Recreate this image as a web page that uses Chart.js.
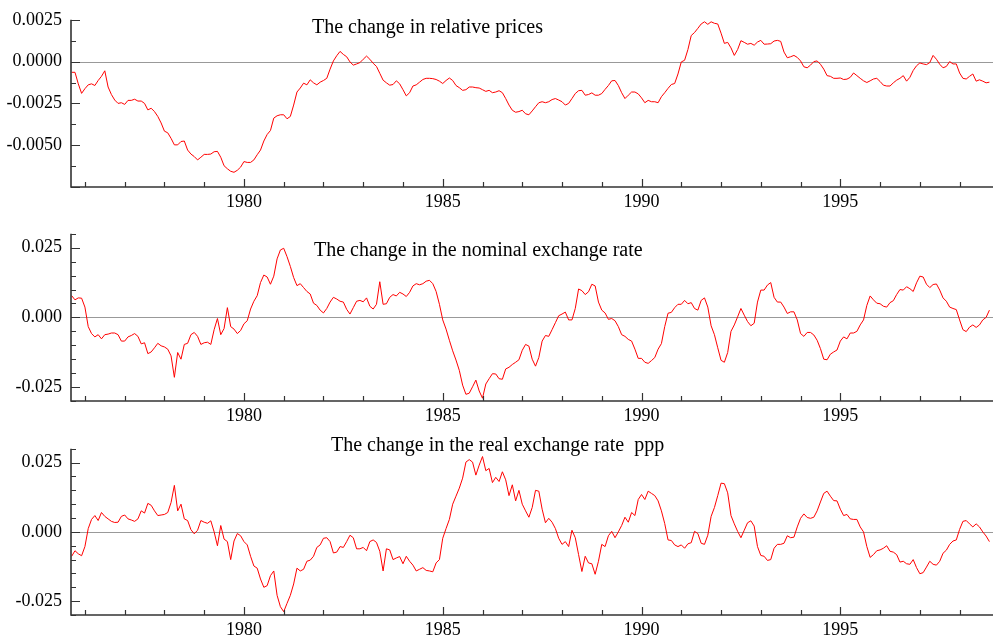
<!DOCTYPE html>
<html>
<head>
<meta charset="utf-8">
<script src="https://cdn.jsdelivr.net/npm/chart.js@4.4.0/dist/chart.umd.min.js"></script>
<style>
  html, body { margin: 0; padding: 0; background: #fff; }
  body { width: 993px; height: 642px; position: relative; overflow: hidden; }
  canvas { position: absolute; left: 0; }
</style>
</head>
<body>
<canvas id="relPrices" width="993" height="214" style="top:0"></canvas>
<canvas id="nominal" width="993" height="214" style="top:214px"></canvas>
<canvas id="real" width="993" height="213" style="top:429px"></canvas>
<script>
// monthly observations, first one is Sep 1975
const startYear = 1975 + 8 / 12;
const xMin = 1975.65;
const xMax = 1998.84;

// change in relative prices
const relPrices = [
  -0.00064, -0.00064, -0.00133, -0.00190, -0.00162, -0.00139, -0.00133, -0.00143, -0.00113, -0.00088, -0.00055, -0.00152,
  -0.00197, -0.00230, -0.00250, -0.00246, -0.00256, -0.00232, -0.00232, -0.00225, -0.00236, -0.00236, -0.00250, -0.00289,
  -0.00279, -0.00299, -0.00328, -0.00367, -0.00416, -0.00426, -0.00459, -0.00498, -0.00498, -0.00478, -0.00475, -0.00529,
  -0.00553, -0.00568, -0.00588, -0.00572, -0.00555, -0.00555, -0.00553, -0.00539, -0.00537, -0.00572, -0.00623, -0.00641,
  -0.00656, -0.00662, -0.00650, -0.00631, -0.00598, -0.00603, -0.00603, -0.00588, -0.00557, -0.00529, -0.00475, -0.00436,
  -0.00412, -0.00338, -0.00324, -0.00318, -0.00318, -0.00342, -0.00328, -0.00260, -0.00182, -0.00158, -0.00129, -0.00139,
  -0.00109, -0.00127, -0.00139, -0.00123, -0.00113, -0.00100, -0.00045, 0.00004, 0.00035, 0.00061, 0.00043, 0.00029,
  -0.00002, -0.00021, -0.00014, -0.00006, 0.00014, 0.00033, 0.00014, -0.00010, -0.00029, -0.00070, -0.00111, -0.00127,
  -0.00141, -0.00137, -0.00115, -0.00133, -0.00168, -0.00205, -0.00186, -0.00146, -0.00139, -0.00123, -0.00107, -0.00100,
  -0.00100, -0.00102, -0.00107, -0.00117, -0.00131, -0.00113, -0.00098, -0.00113, -0.00143, -0.00156, -0.00172, -0.00168,
  -0.00152, -0.00152, -0.00156, -0.00158, -0.00168, -0.00178, -0.00172, -0.00186, -0.00182, -0.00174, -0.00186, -0.00221,
  -0.00260, -0.00291, -0.00303, -0.00299, -0.00291, -0.00312, -0.00318, -0.00295, -0.00270, -0.00246, -0.00240, -0.00246,
  -0.00240, -0.00227, -0.00221, -0.00230, -0.00240, -0.00260, -0.00250, -0.00221, -0.00191, -0.00174, -0.00172, -0.00201,
  -0.00197, -0.00187, -0.00201, -0.00201, -0.00191, -0.00166, -0.00143, -0.00115, -0.00113, -0.00143, -0.00186, -0.00221,
  -0.00201, -0.00182, -0.00182, -0.00193, -0.00217, -0.00246, -0.00232, -0.00240, -0.00240, -0.00246, -0.00210, -0.00186,
  -0.00160, -0.00137, -0.00131, -0.00074, -0.00002, 0.00008, 0.00072, 0.00156, 0.00174, 0.00199, 0.00225, 0.00238,
  0.00223, 0.00238, 0.00229, 0.00225, 0.00170, 0.00109, 0.00115, 0.00082, 0.00037, 0.00072, 0.00125, 0.00115,
  0.00104, 0.00109, 0.00098, 0.00117, 0.00127, 0.00104, 0.00105, 0.00107, 0.00123, 0.00127, 0.00121, 0.00057,
  0.00023, 0.00029, 0.00037, 0.00025, 0.00004, -0.00031, -0.00037, -0.00021, 0.00000, 0.00004, -0.00016, -0.00045,
  -0.00084, -0.00088, -0.00100, -0.00100, -0.00098, -0.00107, -0.00105, -0.00094, -0.00068, -0.00084, -0.00100, -0.00115,
  -0.00125, -0.00115, -0.00104, -0.00100, -0.00119, -0.00141, -0.00146, -0.00146, -0.00127, -0.00111, -0.00100, -0.00084,
  -0.00117, -0.00094, -0.00053, -0.00025, -0.00008, -0.00014, -0.00018, -0.00006, 0.00037, 0.00014, -0.00016, -0.00037,
  -0.00029, 0.00000, -0.00014, -0.00014, -0.00068, -0.00100, -0.00104, -0.00088, -0.00074, -0.00117, -0.00109, -0.00117,
  -0.00127, -0.00123
];

// change in the nominal exchange rate
const nominalRate = [
  0.0078, 0.0063, 0.0070, 0.0069, 0.0037, -0.0033, -0.0058, -0.0070, -0.0062, -0.0077, -0.0062, -0.0060,
  -0.0056, -0.0056, -0.0062, -0.0085, -0.0085, -0.0070, -0.0065, -0.0058, -0.0068, -0.0095, -0.0091, -0.0130,
  -0.0124, -0.0109, -0.0093, -0.0102, -0.0106, -0.0114, -0.0138, -0.0215, -0.0126, -0.0150, -0.0097, -0.0093,
  -0.0062, -0.0054, -0.0068, -0.0097, -0.0091, -0.0089, -0.0097, -0.0044, -0.0004, -0.0062, -0.0040, 0.0035,
  -0.0033, -0.0042, -0.0058, -0.0047, -0.0023, -0.0012, 0.0030, 0.0058, 0.0078, 0.0125, 0.0152, 0.0145,
  0.0119, 0.0148, 0.0210, 0.0242, 0.0248, 0.0218, 0.0183, 0.0143, 0.0114, 0.0121, 0.0107, 0.0093,
  0.0084, 0.0051, 0.0043, 0.0026, 0.0016, 0.0032, 0.0055, 0.0072, 0.0066, 0.0058, 0.0055, 0.0029,
  0.0012, 0.0035, 0.0058, 0.0061, 0.0056, 0.0070, 0.0040, 0.0030, 0.0047, 0.0128, 0.0047, 0.0049,
  0.0072, 0.0082, 0.0077, 0.0090, 0.0084, 0.0075, 0.0090, 0.0113, 0.0121, 0.0117, 0.0121, 0.0130,
  0.0133, 0.0121, 0.0093, 0.0047, -0.0009, -0.0042, -0.0082, -0.0120, -0.0153, -0.0190, -0.0243, -0.0276,
  -0.0272, -0.0249, -0.0225, -0.0264, -0.0290, -0.0239, -0.0220, -0.0202, -0.0203, -0.0220, -0.0222, -0.0185,
  -0.0179, -0.0169, -0.0161, -0.0152, -0.0118, -0.0097, -0.0103, -0.0150, -0.0175, -0.0144, -0.0085, -0.0065,
  -0.0068, -0.0044, -0.0019, 0.0006, 0.0012, 0.0019, -0.0009, -0.0009, 0.0032, 0.0102, 0.0096, 0.0082,
  0.0092, 0.0119, 0.0113, 0.0055, 0.0026, 0.0016, -0.0007, -0.0004, -0.0012, -0.0033, -0.0062, -0.0068,
  -0.0079, -0.0085, -0.0114, -0.0147, -0.0147, -0.0161, -0.0165, -0.0155, -0.0144, -0.0114, -0.0094, -0.0033,
  0.0015, 0.0018, 0.0035, 0.0047, 0.0047, 0.0061, 0.0049, 0.0053, 0.0032, 0.0026, 0.0061, 0.0070,
  0.0037, -0.0030, -0.0062, -0.0109, -0.0154, -0.0161, -0.0126, -0.0050, -0.0027, 0.0002, 0.0032, 0.0008,
  -0.0015, -0.0030, -0.0021, 0.0055, 0.0098, 0.0098, 0.0116, 0.0125, 0.0072, 0.0055, 0.0055, 0.0037,
  0.0014, 0.0020, 0.0020, -0.0009, -0.0058, -0.0068, -0.0054, -0.0054, -0.0063, -0.0082, -0.0112, -0.0150,
  -0.0152, -0.0132, -0.0124, -0.0117, -0.0085, -0.0070, -0.0077, -0.0056, -0.0056, -0.0050, -0.0027, -0.0009,
  0.0043, 0.0077, 0.0063, 0.0051, 0.0049, 0.0040, 0.0037, 0.0053, 0.0060, 0.0082, 0.0100, 0.0098,
  0.0110, 0.0103, 0.0093, 0.0124, 0.0148, 0.0145, 0.0119, 0.0107, 0.0118, 0.0120, 0.0098, 0.0070,
  0.0058, 0.0037, 0.0032, 0.0028, -0.0009, -0.0044, -0.0051, -0.0035, -0.0027, -0.0036, -0.0027, -0.0009,
  0.0000, 0.0026
];

// change in the real exchange rate (ppp)
const realRate = [
  -0.0088, -0.0068, -0.0079, -0.0086, -0.0053, 0.0012, 0.0045, 0.0059, 0.0041, 0.0070, 0.0056, 0.0047,
  0.0038, 0.0034, 0.0035, 0.0056, 0.0061, 0.0047, 0.0043, 0.0038, 0.0047, 0.0076, 0.0068, 0.0103,
  0.0096, 0.0076, 0.0059, 0.0061, 0.0063, 0.0070, 0.0106, 0.0168, 0.0076, 0.0100, 0.0047, 0.0041,
  0.0008, -0.0007, 0.0006, 0.0041, 0.0035, 0.0031, 0.0040, 0.0000, -0.0050, 0.0023, -0.0026, -0.0035,
  -0.0100, -0.0033, -0.0006, -0.0014, -0.0035, -0.0047, -0.0088, -0.0123, -0.0131, -0.0170, -0.0200, -0.0194,
  -0.0158, -0.0141, -0.0229, -0.0270, -0.0288, -0.0258, -0.0229, -0.0188, -0.0131, -0.0141, -0.0135, -0.0106,
  -0.0102, -0.0088, -0.0056, -0.0047, -0.0023, -0.0021, -0.0035, -0.0076, -0.0073, -0.0053, -0.0056, -0.0035,
  -0.0012, -0.0021, -0.0061, -0.0061, -0.0056, -0.0068, -0.0035, -0.0029, -0.0038, -0.0070, -0.0141, -0.0061,
  -0.0065, -0.0100, -0.0094, -0.0089, -0.0115, -0.0088, -0.0106, -0.0120, -0.0141, -0.0135, -0.0129, -0.0139,
  -0.0141, -0.0144, -0.0112, -0.0100, -0.0023, 0.0012, 0.0045, 0.0100, 0.0129, 0.0158, 0.0194, 0.0252,
  0.0261, 0.0252, 0.0205, 0.0241, 0.0272, 0.0221, 0.0229, 0.0178, 0.0197, 0.0182, 0.0217, 0.0188,
  0.0131, 0.0170, 0.0112, 0.0150, 0.0100, 0.0076, 0.0053, 0.0088, 0.0150, 0.0147, 0.0082, 0.0033,
  0.0049, 0.0035, 0.0012, -0.0023, -0.0045, -0.0035, -0.0053, 0.0006, -0.0021, -0.0082, -0.0143, -0.0088,
  -0.0112, -0.0115, -0.0153, -0.0106, -0.0045, -0.0053, -0.0014, 0.0002, -0.0021, 0.0000, 0.0023, 0.0053,
  0.0035, 0.0070, 0.0059, 0.0117, 0.0135, 0.0117, 0.0147, 0.0139, 0.0131, 0.0112, 0.0076, 0.0030,
  -0.0029, -0.0031, -0.0047, -0.0053, -0.0047, -0.0059, -0.0043, -0.0039, 0.0002, -0.0006, -0.0041, -0.0045,
  -0.0012, 0.0056, 0.0088, 0.0131, 0.0176, 0.0174, 0.0141, 0.0059, 0.0029, 0.0002, -0.0021, 0.0006,
  0.0033, 0.0040, 0.0021, -0.0053, -0.0085, -0.0088, -0.0103, -0.0100, -0.0059, -0.0045, -0.0045, -0.0041,
  -0.0014, -0.0021, -0.0019, 0.0018, 0.0049, 0.0065, 0.0052, 0.0049, 0.0053, 0.0076, 0.0108, 0.0139,
  0.0147, 0.0129, 0.0113, 0.0112, 0.0082, 0.0059, 0.0063, 0.0047, 0.0045, 0.0045, 0.0018, 0.0000,
  -0.0053, -0.0092, -0.0082, -0.0068, -0.0065, -0.0059, -0.0050, -0.0070, -0.0073, -0.0082, -0.0109, -0.0106,
  -0.0115, -0.0117, -0.0100, -0.0129, -0.0151, -0.0147, -0.0127, -0.0106, -0.0117, -0.0120, -0.0106, -0.0077,
  -0.0066, -0.0045, -0.0033, -0.0029, 0.0009, 0.0038, 0.0041, 0.0029, 0.0018, 0.0029, 0.0018, 0.0000,
  -0.0015, -0.0035
];

const serif = '"Liberation Serif", "Times New Roman", serif';
Chart.defaults.font.family = serif;
Chart.defaults.color = '#000';

const isMultiple = (v, step) => Math.abs(v / step - Math.round(v / step)) < 1e-6;

// axis lines, inward tick marks, zero line and the title inside the plot
const panelAxes = {
  id: 'panelAxes',
  beforeDatasetsDraw(chart, args, opts) {
    const { ctx, chartArea: a, scales: { y } } = chart;
    const y0 = Math.round(y.getPixelForValue(0)) + 0.5;
    ctx.save();
    ctx.strokeStyle = '#999';
    ctx.lineWidth = 1;
    ctx.beginPath();
    ctx.moveTo(a.left, y0);
    ctx.lineTo(a.right, y0);
    ctx.stroke();
    ctx.restore();
  },
  afterDraw(chart, args, opts) {
    const { ctx, chartArea: a, scales: { x, y } } = chart;
    ctx.save();
    ctx.strokeStyle = '#333';
    ctx.lineWidth = 1.6;
    ctx.beginPath();
    ctx.moveTo(a.left, a.top);
    ctx.lineTo(a.left, a.bottom);
    ctx.lineTo(a.right, a.bottom);
    ctx.stroke();

    ctx.lineWidth = 1.2;
    ctx.beginPath();
    x.ticks.forEach(t => {
      if (!isMultiple(t.value, 1)) return;
      const px = Math.round(x.getPixelForValue(t.value)) + 0.5;
      const len = isMultiple(t.value, 5) ? 8 : 5;
      ctx.moveTo(px, a.bottom);
      ctx.lineTo(px, a.bottom - len);
    });
    y.ticks.forEach(t => {
      const py = Math.round(y.getPixelForValue(t.value)) + 0.5;
      const len = isMultiple(t.value, opts.yMajor) ? 9 : 5;
      ctx.moveTo(a.left, py);
      ctx.lineTo(a.left + len, py);
    });
    ctx.stroke();

    ctx.fillStyle = '#000';
    ctx.font = '20px ' + serif;
    ctx.textAlign = 'left';
    ctx.textBaseline = 'alphabetic';
    ctx.fillText(opts.title, x.getPixelForValue(opts.titleYear), opts.titleBaseline);
    ctx.restore();
  }
};

function makePanel(id, values, yMin, yMax, yStep, yMajor, decimals, title, titleYear, titleBaseline) {
  const points = values.map((v, i) => ({ x: startYear + i / 12, y: v }));
  return new Chart(document.getElementById(id), {
    type: 'line',
    data: {
      datasets: [{
        data: points,
        borderColor: '#ff0000',
        borderWidth: 1,
        pointRadius: 0,
        tension: 0,
        fill: false
      }]
    },
    options: {
      responsive: false,
      animation: false,
      layout: { padding: { top: 16, left: 0, right: 0, bottom: 0 } },
      plugins: {
        legend: { display: false },
        tooltip: { enabled: false },
        panelAxes: { title, titleYear, titleBaseline, yMajor }
      },
      scales: {
        x: {
          type: 'linear',
          min: xMin,
          max: xMax,
          grid: { display: false, drawTicks: false },
          border: { display: false },
          ticks: {
            stepSize: 1,
            includeBounds: false,
            autoSkip: false,
            maxRotation: 0,
            padding: 4,
            font: { size: 18 },
            callback: v => (isMultiple(v, 5) ? String(Math.round(v)) : '')
          },
          afterFit: s => { s.height = 27; }
        },
        y: {
          type: 'linear',
          min: yMin,
          max: yMax,
          grid: { display: false, drawTicks: false },
          border: { display: false },
          ticks: {
            stepSize: yStep,
            autoSkip: false,
            padding: 9,
            font: { size: 18 },
            callback: v => (isMultiple(v, yMajor) && v > yMin + yStep / 2 ? v.toFixed(decimals) : '')
          },
          afterFit: s => { s.width = 71; }
        }
      }
    },
    plugins: [panelAxes]
  });
}

makePanel('relPrices', relPrices, -0.0075, 0.0025, 0.00125, 0.0025, 4,
  'The change in relative prices', 1981.71, 33);
makePanel('nominal', nominalRate, -0.03, 0.03, 0.005, 0.025, 3,
  'The change in the nominal exchange rate', 1981.76, 42);
makePanel('real', realRate, -0.03, 0.03, 0.005, 0.025, 3,
  'The change in the real exchange rate  ppp', 1982.19, 22);
</script>
</body>
</html>
